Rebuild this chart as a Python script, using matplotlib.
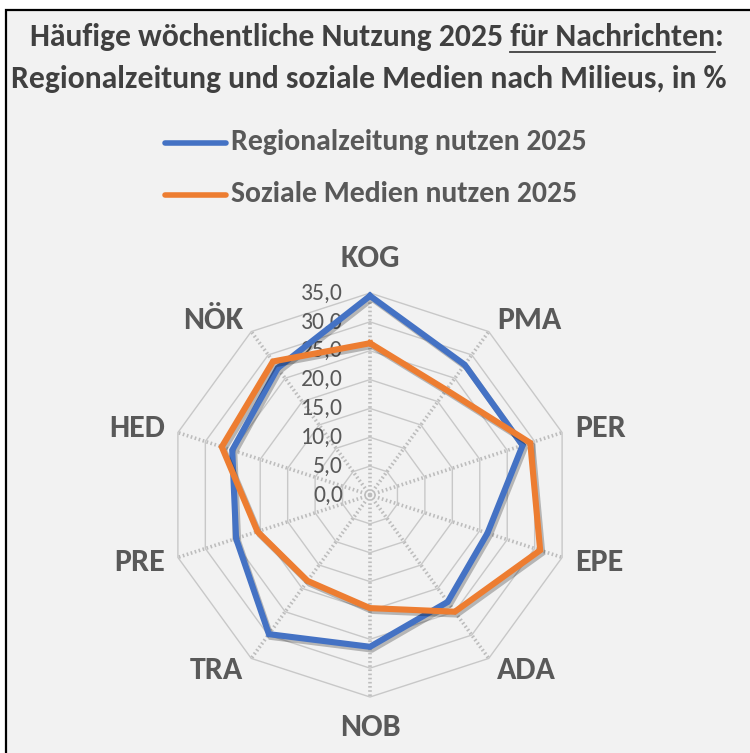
import numpy as np
import matplotlib
matplotlib.use("Agg")
import matplotlib.pyplot as plt
import matplotlib.patheffects as pe
from matplotlib.lines import Line2D
from matplotlib.patches import Rectangle
from matplotlib.transforms import offset_copy

# Daten
milieus = ["KOG", "PMA", "PER", "EPE", "ADA", "NOB", "TRA", "PRE", "HED", "NÖK"]
regionalzeitung = [34.5, 27.9, 27.8, 21.4, 22.9, 26.3, 29.8, 24.4, 25.1, 27.2]
soziale_medien = [26.3, 22.5, 29.2, 31.0, 25.0, 19.6, 18.4, 20.5, 27.0, 28.6]
serien = ["Regionalzeitung nutzen 2025", "Soziale Medien nutzen 2025"]
stufen = [0, 5, 10, 15, 20, 25, 30, 35]

titel1_a = "Häufige wöchentliche Nutzung 2025 "
titel1_b = "für Nachrichten"
titel1_c = ":"
titel2 = "Regionalzeitung und soziale Medien nach Milieus, in %"

farben = ["#4472C4", "#ED7D31"]
grau_text = "#404040"
grau_achse = "#595959"

W, H = 750, 753
plt.rcParams['font.family'] = ['Carlito', 'Lato', 'DejaVu Sans']

fig = plt.figure(figsize=(W / 100, H / 100), dpi=100)
fig.patch.set_facecolor('white')
renderer = fig.canvas.get_renderer()


def fx(x):
    return x / W


def fy(y):
    return 1 - y / H


def breite(t):
    return t.get_window_extent(renderer).width


# Hintergrund mit Rahmen (oben und links sichtbar)
fig.add_artist(Rectangle((fx(6), -0.05), 1.1, fy(10) + 0.05, transform=fig.transFigure,
                         facecolor='#f2f2f2', edgecolor='black', linewidth=1.6, zorder=0))

# Titel
probe = fig.text(0, 0, titel2, fontsize=20, fontweight='bold')
t_size = 20 * 718 / breite(probe)
probe.remove()

t2 = fig.text(fx(369), fy(88), titel2, fontsize=t_size, fontweight='bold',
              color=grau_text, ha='center', va='baseline')
ganz = titel1_a + titel1_b + titel1_c
t1 = fig.text(fx(377), fy(46), ganz, fontsize=t_size, fontweight='bold',
              color=grau_text, ha='center', va='baseline')
w_ganz = breite(t1)
p1 = fig.text(0, 0, titel1_a + "x", fontsize=t_size, fontweight='bold')
p2 = fig.text(0, 0, "x", fontsize=t_size, fontweight='bold')
p3 = fig.text(0, 0, titel1_b, fontsize=t_size, fontweight='bold')
w_a = breite(p1) - breite(p2)
w_b = breite(p3)
for p in (p1, p2, p3):
    p.remove()
x_start = 377 - w_ganz / 2 + w_a
fig.add_artist(Line2D([fx(x_start), fx(x_start + w_b)], [fy(52), fy(52)],
                      transform=fig.transFigure, color=grau_text, lw=1.3))

# Legende
probe = fig.text(0, 0, serien[0], fontsize=16, fontweight='bold')
l_size = 16 * 356 / breite(probe)
probe.remove()
for i, (name, farbe) in enumerate(zip(serien, farben)):
    y = 143 + i * 52
    fig.add_artist(Line2D([fx(165), fx(226)], [fy(y), fy(y)], transform=fig.transFigure,
                          color=farbe, lw=4.0, solid_capstyle='round'))
    fig.text(fx(231), fy(y + 7), name, fontsize=l_size, fontweight='bold',
             color=grau_achse, ha='left', va='baseline')

# Netzdiagramm
cx, cy, R = 370, 495, 202
ax = fig.add_axes([fx(cx - R), fy(cy + R), 2 * R / W, 2 * R / H], projection='polar')
ax.set_theta_offset(np.pi / 2)
ax.set_theta_direction(-1)
ax.set_ylim(0, stufen[-1])
ax.set_facecolor('none')
ax.grid(False)
ax.spines['polar'].set_visible(False)
ax.set_xticks([])
ax.set_yticks([])

n = len(milieus)
winkel = np.linspace(0, 2 * np.pi, n, endpoint=False)
ring = np.append(winkel, winkel[0])

for s in stufen[1:]:
    ax.plot(ring, [s] * (n + 1), color='#c8c8c8', lw=1.0, zorder=1, clip_on=False)
for w in winkel:
    ax.plot([w, w], [0, stufen[-1]], color='#bdbdbd', lw=2.6,
            ls=(0, (0.45, 0.7)), zorder=1, clip_on=False)

schatten = [pe.SimpleLineShadow(offset=(1.5, -2), shadow_color='black', alpha=0.25), pe.Normal()]
for werte, farbe in zip([regionalzeitung, soziale_medien], farben):
    ax.plot(ring, werte + werte[:1], color=farbe, lw=4.4, zorder=3,
            solid_joinstyle='miter', clip_on=False, path_effects=schatten)

# Achsenbeschriftung der Stufen
trans = offset_copy(ax.transData, fig=fig, x=-27, y=0, units='dots')
for s in stufen:
    ax.text(0, s, f"{s:.1f}".replace('.', ','), transform=trans, ha='right', va='center',
            fontsize=17, color=grau_achse, zorder=2)

# Kategorien
for w, name in zip(winkel, milieus):
    grad = np.degrees(w)
    if np.isclose(grad, 0):
        ax.text(w, 41, name, ha='center', va='center', fontsize=23,
                fontweight='bold', color=grau_achse)
    elif np.isclose(grad, 180):
        ax.text(w, 40.2, name, ha='center', va='center', fontsize=23,
                fontweight='bold', color=grau_achse)
    else:
        ax.text(w, 37.4, name, ha='left' if grad < 180 else 'right', va='center',
                fontsize=23, fontweight='bold', color=grau_achse)

fig.savefig("out.png", dpi=100, facecolor=fig.get_facecolor())
